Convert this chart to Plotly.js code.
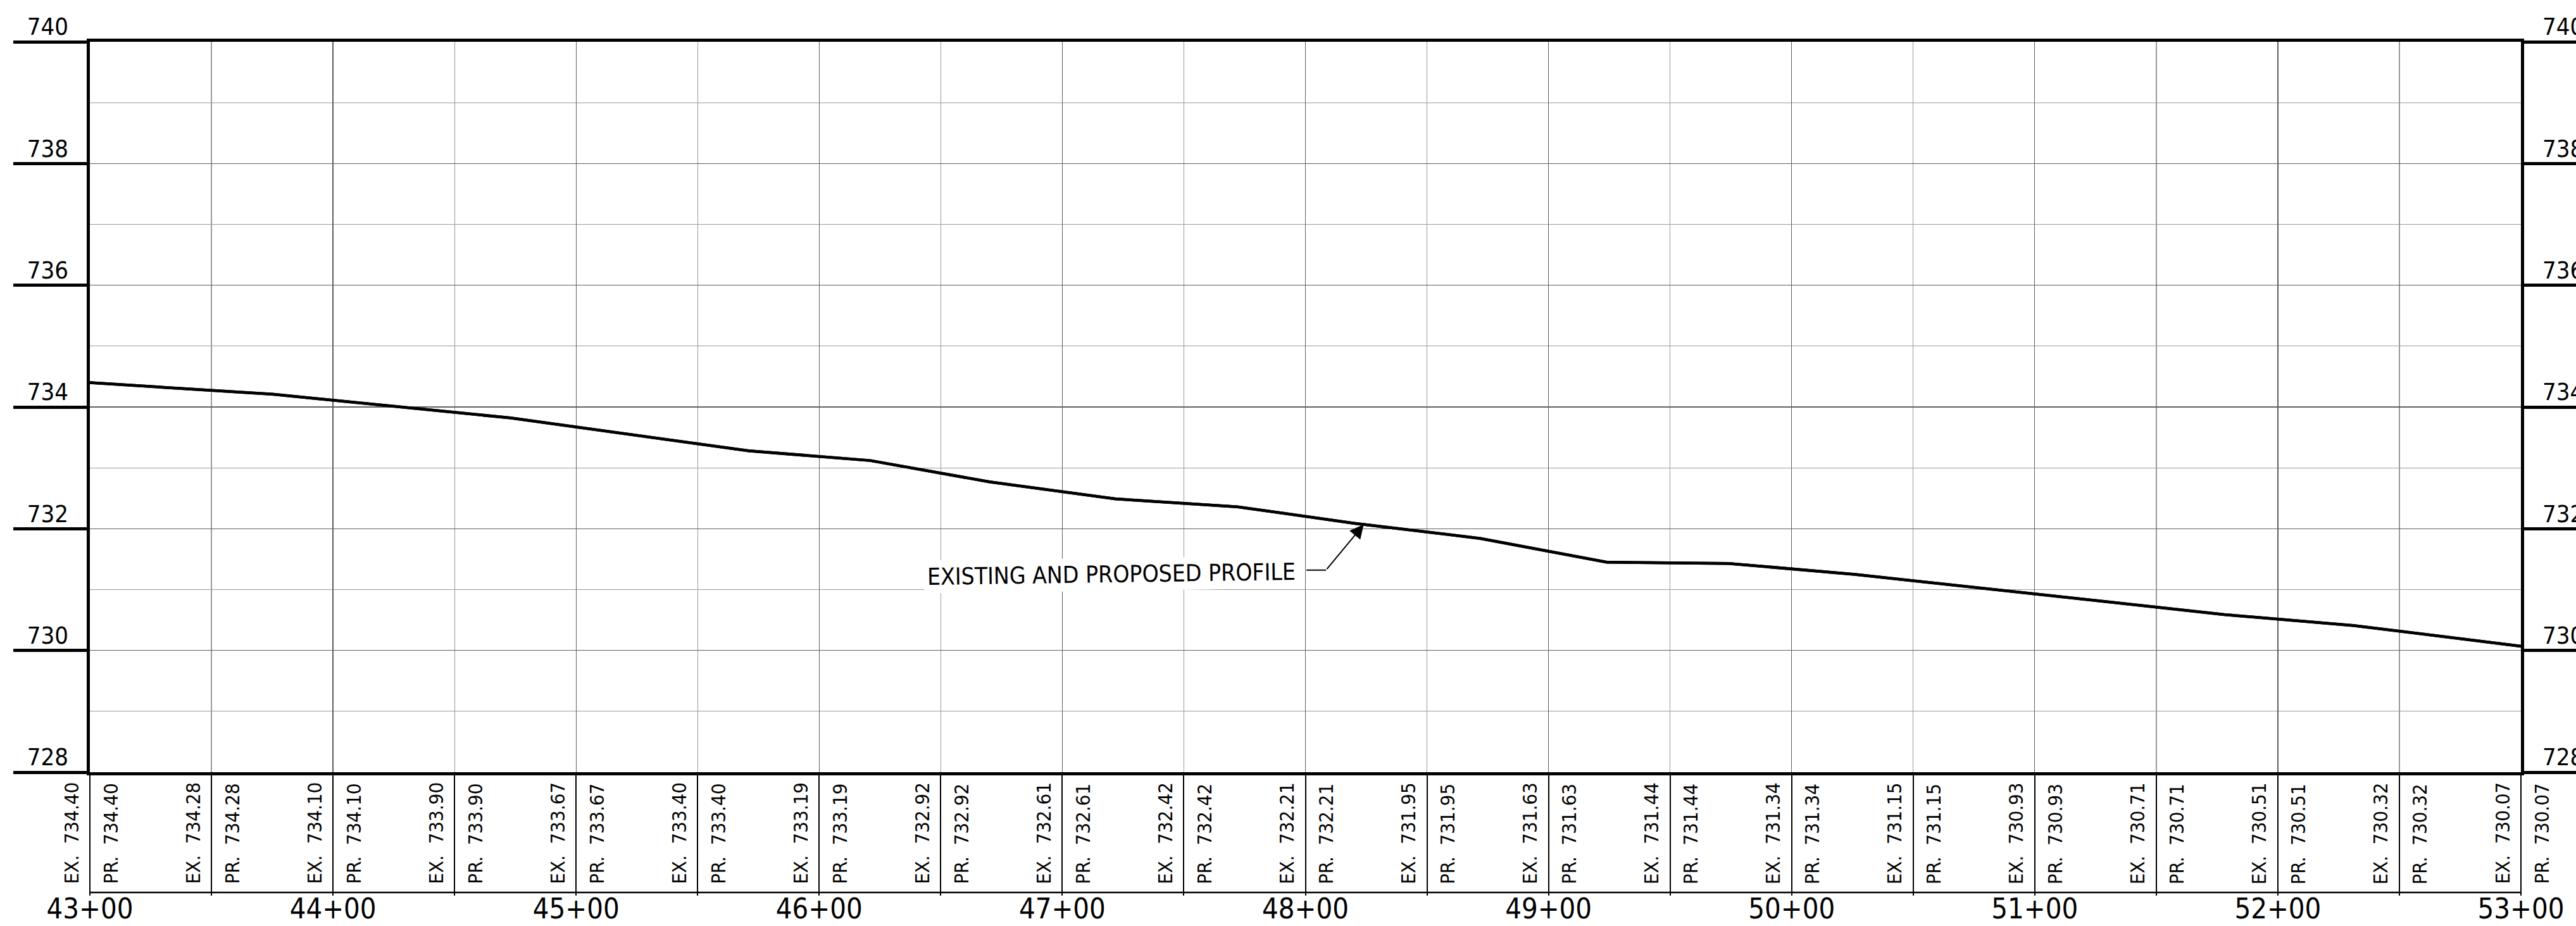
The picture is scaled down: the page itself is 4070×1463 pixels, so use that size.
<!DOCTYPE html>
<html>
<head>
<meta charset="utf-8">
<script src="https://cdn.plot.ly/plotly-3.0.1.min.js"></script>
<style>html,body{margin:0;padding:0;background:#fff;}#chart{width:4070px;height:1463px;}</style>
</head>
<body>
<div id="chart"></div>
<script>
// ---- DATA ----
// Profile vertices (station in ft, elevation in ft)
const profileStations = [4300, 4375, 4473, 4571, 4621, 4670, 4722, 4772, 4820, 4872, 4924, 4974, 5026, 5178, 5231, 5300];
const existingElev   = [734.40, 734.21, 733.82, 733.28, 733.12, 732.77, 732.49, 732.36, 732.09, 731.84, 731.45, 731.43, 731.25, 730.59, 730.41, 730.07];
const proposedElev   = [734.40, 734.21, 733.82, 733.28, 733.12, 732.77, 732.49, 732.36, 732.09, 731.84, 731.45, 731.43, 731.25, 730.59, 730.41, 730.07];

// Elevation table at every 50 ft station
const tableStations = [4300, 4350, 4400, 4450, 4500, 4550, 4600, 4650, 4700, 4750, 4800, 4850, 4900, 4950, 5000, 5050, 5100, 5150, 5200, 5250, 5300];
const tableEx = [734.40, 734.28, 734.10, 733.90, 733.67, 733.40, 733.19, 732.92, 732.61, 732.42, 732.21, 731.95, 731.63, 731.44, 731.34, 731.15, 730.93, 730.71, 730.51, 730.32, 730.07];
const tablePr = [734.40, 734.28, 734.10, 733.90, 733.67, 733.40, 733.19, 732.92, 732.61, 732.42, 732.21, 731.95, 731.63, 731.44, 731.34, 731.15, 730.93, 730.71, 730.51, 730.32, 730.07];

// Station tick labels
const stationTickVals = [4300, 4400, 4500, 4600, 4700, 4800, 4900, 5000, 5100, 5200, 5300];
const stationTickText = ["43+00", "44+00", "45+00", "46+00", "47+00", "48+00", "49+00", "50+00", "51+00", "52+00", "53+00"];

// Elevation tick labels
const elevTickVals = [728, 730, 732, 734, 736, 738, 740];
const elevTickText = ["728", "730", "732", "734", "736", "738", "740"];

// Callout
const calloutText = "EXISTING AND PROPOSED PROFILE";
const calloutPoint = {station: 4824, elev: 732.07};

// ---- STYLE / LAYOUT ----
const W = 4070, H = 1463;
const M = {l: 142, r: 87, t: 66, b: 243};
const plotH = H - M.t - M.b;
const tableDepth = 190;
const COND = "DejaVu Sans Condensed, sans-serif";
const majorGrid = '#5f5f5f', minorGrid = '#9a9a9a';

const traces = [
  {x: profileStations, y: existingElev, type: 'scatter', mode: 'lines', name: 'Existing',
   line: {color: '#000', width: 4.5}, hoverinfo: 'skip', yaxis: 'y'},
  {x: profileStations, y: proposedElev, type: 'scatter', mode: 'lines', name: 'Proposed',
   line: {color: '#000', width: 4.5}, hoverinfo: 'skip', yaxis: 'y2'},
  {x: tableStations, y: tablePr, type: 'scatter', mode: 'markers', name: 'Table points',
   marker: {opacity: 0, size: 1}, hoverinfo: 'skip', yaxis: 'y3'}
];

const nb = '\u00A0\u00A0';
const ann = [];
const yTextBottom = -(1399 - (H - M.b)) / plotH;
tableStations.forEach((s, i) => {
  ann.push({x: s, xref: 'x', y: yTextBottom, yref: 'paper', text: 'EX.' + nb + tableEx[i].toFixed(2),
    textangle: -90, showarrow: false, xanchor: 'center', yanchor: 'bottom', xshift: -30,
    font: {family: COND, size: 31, color: '#000'}});
  ann.push({x: s, xref: 'x', y: yTextBottom, yref: 'paper', text: 'PR.' + nb + tablePr[i].toFixed(2),
    textangle: -90, showarrow: false, xanchor: 'center', yanchor: 'bottom', xshift: 32,
    font: {family: COND, size: 31, color: '#000'}});
});

// callout label
ann.push({x: 4720.2, xref: 'x', y: 731.25, yref: 'y', text: calloutText, showarrow: false,
  textangle: -0.8, bgcolor: '#fff', borderpad: 4, xanchor: 'center', yanchor: 'middle',
  font: {family: COND, size: 37, color: '#000'}});
// leader arrow
ann.push({x: calloutPoint.station, y: calloutPoint.elev, xref: 'x', yref: 'y',
  ax: 4808.5, ay: 731.32, axref: 'x', ayref: 'y', text: '', showarrow: true,
  arrowhead: 2, arrowsize: 2.2, arrowwidth: 2, arrowcolor: '#000', standoff: 0, startstandoff: 0});

const shapes = [
  {type: 'line', xref: 'x', yref: 'paper', x0: 4300, x1: 5300, y0: -tableDepth / plotH, y1: -tableDepth / plotH,
   line: {color: '#000', width: 2.5}},
  {type: 'line', xref: 'x', yref: 'y', x0: 4800.4, x1: 4808.5, y0: 731.32, y1: 731.32,
   line: {color: '#000', width: 2}}
];

const labelAxis = (side) => ({
  overlaying: 'y', side: side, range: [728, 740], tickmode: 'array', tickvals: elevTickVals, ticktext: elevTickText,
  ticks: '', showgrid: false, showline: false, zeroline: false,
  tickfont: {family: COND, size: 38, color: '#000'}, ticklabelstandoff: 33, ticklabelshift: -24,
  automargin: false, fixedrange: true
});

const layout = {
  width: W, height: H,
  margin: M,
  paper_bgcolor: '#fff', plot_bgcolor: '#fff',
  showlegend: false,
  xaxis: {
    range: [4300, 5300], showline: true, linewidth: 5, linecolor: '#000', mirror: true,
    tickmode: 'array', tickvals: stationTickVals, ticktext: stationTickText,
    ticks: 'outside', ticklen: tableDepth, tickwidth: 2, tickcolor: '#000',
    ticklabelstandoff: -18,
    showgrid: true, gridcolor: majorGrid, gridwidth: 1.3, zeroline: false,
    tickfont: {family: COND, size: 45, color: '#000'},
    minor: {tickmode: 'linear', tick0: 4300, dtick: 50, ticks: 'outside', ticklen: tableDepth, tickwidth: 2,
            tickcolor: '#000', showgrid: true, gridcolor: minorGrid, gridwidth: 1.3},
    automargin: false, fixedrange: true
  },
  yaxis: {
    range: [728, 740], showline: true, linewidth: 5, linecolor: '#000', mirror: 'ticks',
    tickmode: 'array', tickvals: elevTickVals, ticks: 'outside', ticklen: 116, tickwidth: 5, tickcolor: '#000',
    showticklabels: false, showgrid: true, gridcolor: majorGrid, gridwidth: 1.3, zeroline: false,
    minor: {tickmode: 'linear', tick0: 728, dtick: 1, ticks: '', showgrid: true, gridcolor: minorGrid, gridwidth: 1.3},
    automargin: false, fixedrange: true
  },
  yaxis2: labelAxis('left'),
  yaxis3: labelAxis('right'),
  annotations: ann,
  shapes: shapes
};

Plotly.newPlot('chart', traces, layout, {displayModeBar: false, staticPlot: true});
</script>
</body>
</html>
